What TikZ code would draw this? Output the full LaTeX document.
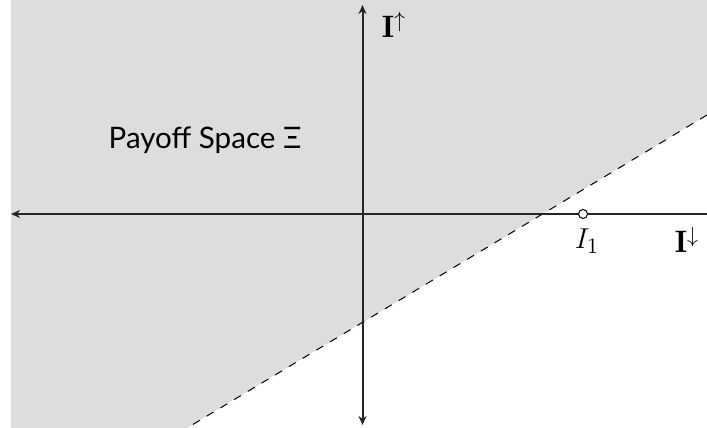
\documentclass[tikz,border=0pt]{standalone}
\usepackage{fontspec}
\setsansfont{Lato}
\usetikzlibrary{arrows.meta}
\definecolor{regiongray}{RGB}{221,221,221}
\tikzset{
  axis/.style={line width=1pt, black!85},
  tipstyle/.style={-{Stealth[length=4.5pt,width=4pt]}},
  boundary/.style={dashed, line width=0.5pt, dash pattern=on 4pt off 4pt},
  lbl/.style={inner sep=0pt, font=\fontsize{15.5}{18}\selectfont}
}
\begin{document}
\begin{tikzpicture}[x=0.5pt,y=-0.5pt]
\useasboundingbox (0,0) rectangle (707,428);
% shaded region
\fill[regiongray] (11,0) -- (707,0) -- (707,115) -- (187,428) -- (11,428) -- cycle;
% coordinates
\coordinate (xl) at (11,214);
\coordinate (xr) at (707,214);
\coordinate (yt) at (362.5,5);
\coordinate (yb) at (362.5,425);
\coordinate (ba) at (707,115);
\coordinate (bb) at (187,428);
% boundary
\draw[boundary] (ba) -- (bb);
% axes
\draw[axis, tipstyle] (xr) -- (xl);
\draw[axis, {Stealth[length=4.5pt,width=4pt]}-{Stealth[length=4.5pt,width=4pt]}] (yt) -- (yb);
% point I1
\node[circle, draw, fill=white, inner sep=0pt, minimum size=4.5pt, line width=0.5pt] (p1) at (583,214) {};
\node[lbl] (i1) at (587,241) {$I_1$};
\node[lbl] (idn) at (687,240) {$\mathbf{I}^{\downarrow}$};
\node[lbl] (iup) at (394,25) {$\mathbf{I}^{\uparrow}$};
\node[lbl, font=\sffamily\fontsize{14.8}{17}\selectfont] (ps) at (205,140) {Payoff Space Ξ};
\end{tikzpicture}
\end{document}
